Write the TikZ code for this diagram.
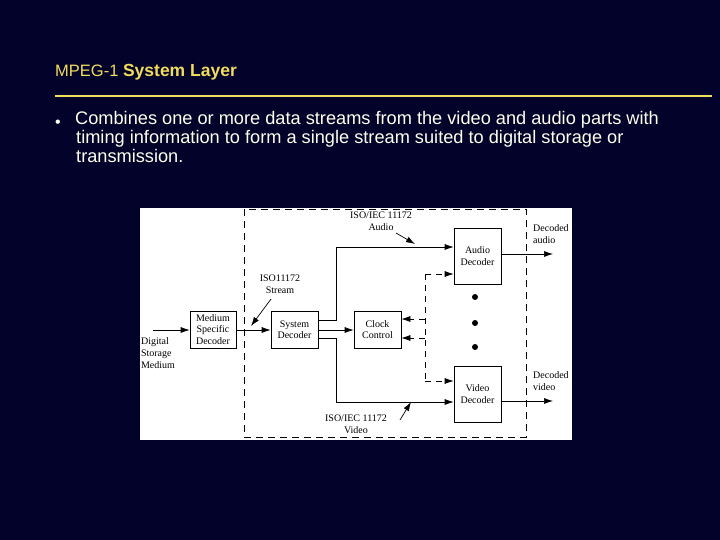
\documentclass[tikz,border=0pt]{standalone}
\usepackage{fontspec}
\setmainfont{Liberation Sans}
\newfontfamily\serifd{Liberation Serif}
\usetikzlibrary{arrows.meta}
\definecolor{bg}{HTML}{02022A}
\definecolor{ttl}{HTML}{F2DC5E}
\definecolor{bod}{HTML}{FFFFEE}
\begin{document}
\begin{tikzpicture}[x=1pt,y=-1pt,
  blk/.style={draw,line width=0.7pt,fill=white,align=center,inner sep=0pt,font=\serifd\fontsize{10}{11.5}\selectfont},
  lbl/.style={align=left,inner sep=0pt,font=\serifd\fontsize{10}{12}\selectfont},
  ar/.style={line width=0.7pt,-{Latex[length=9pt,width=6pt]}},
  dsh/.style={line width=0.7pt,dash pattern=on 7pt off 5pt}]
\fill[bg] (0,0) rectangle (720,540);
\useasboundingbox (0,0) rectangle (720,540);
\node[anchor=base west,inner sep=0pt,text=ttl,font=\fontsize{16.5}{18}\selectfont] (t) at (55,77) {MPEG-1 \textbf{\fontsize{17.5}{18}\selectfont System Layer}};
\fill[ttl] (55,95) rectangle (712,97.5);
\node[anchor=base west,inner sep=0pt,text=bod,font=\fontsize{16}{14}\selectfont] (bul) at (55,128) {•};
\node[anchor=north west,inner sep=0pt,text=bod,align=left,font=\fontsize{18.2}{19}\selectfont] (txt) at (76,111)
{\hspace*{-1pt}Combines one or more data streams from the video and audio parts with\\timing information to form a single stream suited to digital storage or\\transmission.};
% diagram
\fill[white] (140,208) rectangle (572,440);
\draw[dsh] (244,209) rectangle (526,437);
\node[blk,minimum width=46pt,minimum height=37pt] (msd) at (213,329.5) {Medium\\Specific\\Decoder};
\node[blk,minimum width=47pt,minimum height=37pt] (sd) at (294.5,329.5) {System\\Decoder};
\node[blk,minimum width=47pt,minimum height=37pt] (cc) at (377.5,329.5) {Clock\\Control};
\node[blk,minimum width=47pt,minimum height=56pt] (ad) at (477.5,256) {Audio\\Decoder};
\node[blk,minimum width=47pt,minimum height=56pt] (vd) at (477.5,394) {Video\\Decoder};
\coordinate (in) at (153,330);
\draw[ar] (in) -- (msd.west|-in);
\draw[ar] (msd.east|-in) -- (sd.west|-in);
\draw[ar] (sd.east|-in) -- (cc.west|-in);
\draw[ar] (sd.east|-0,320) -- (336,320) -- (336,247) -- (ad.west|-0,247);
\draw[ar] (sd.east|-0,338) -- (336,338) -- (336,402) -- (vd.west|-0,402);
\draw[ar] (ad.east|-0,254) -- (553,254);
\draw[ar] (vd.east|-0,401) -- (553,401);
\draw[dsh,dash pattern=on 6pt off 5pt] (425,274) -- (425,381);
\draw[ar,dash pattern=on 6pt off 5pt] (425,274) -- (ad.west|-0,274);
\draw[ar,dash pattern=on 6pt off 5pt] (425,381) -- (vd.west|-0,381);
\draw[ar,dash pattern=on 6pt off 5pt] (425,319) -- (cc.east|-0,319);
\draw[ar,dash pattern=on 6pt off 5pt] (425,338) -- (cc.east|-0,338);
\foreach \y/\n in {297/d1,323/d2,347/d3} \fill (475,\y) circle (3pt);
\node[lbl] (dsm) at (158,353) {Digital\\Storage\\Medium};
\node[lbl,align=center] (st) at (280,284) {ISO11172\\Stream};
\draw[ar] (271,299) -- (251,326);
\node[lbl,align=center] (au) at (381,221) {ISO/IEC 11172\\Audio};
\draw[ar] (396,233) -- (415,244);
\node[lbl,align=center] (vi) at (356,424) {ISO/IEC 11172\\Video};
\draw[ar] (400,420) -- (411,402);
\node[lbl,anchor=north west] (da) at (533,224) {Decoded\\audio};
\node[lbl,anchor=north west] (dv) at (533,371) {Decoded\\video};
\end{tikzpicture}
\end{document}
